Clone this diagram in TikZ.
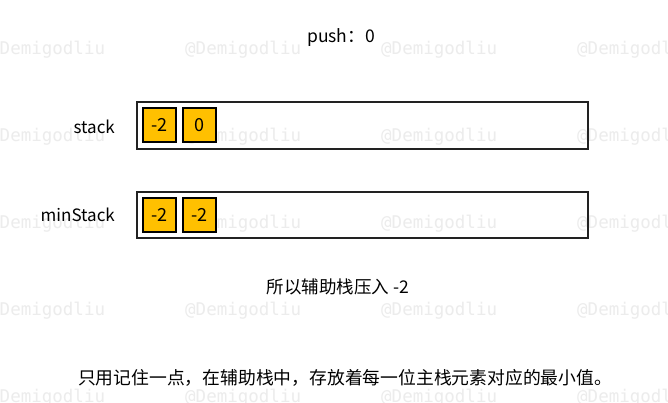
\documentclass[tikz,border=0pt]{standalone}
\usepackage{fontspec}
\setmainfont{Noto Sans CJK SC}
\newfontfamily\wmfont{DejaVu Sans Mono}
\definecolor{cellfill}{HTML}{FFC000}
\definecolor{boxline}{HTML}{222222}
\definecolor{wmgray}{HTML}{ECECEC}
\begin{document}
\begin{tikzpicture}[x=1pt,y=-1pt,
  wm/.style={font=\wmfont\fontsize{17.5}{20}\selectfont, text=wmgray, anchor=west, inner sep=0pt},
  stackbox/.style={draw=boxline, line width=1.8pt},
  cell/.style={draw=black, line width=1.2pt, fill=cellfill, minimum width=33pt, minimum height=34pt, inner sep=0pt, font=\fontsize{18}{20}\selectfont},
  lbl/.style={font=\fontsize{17}{19}\selectfont, anchor=east, inner sep=0pt},
  txt/.style={font=\fontsize{17.5}{20}\selectfont, inner sep=0pt}]
\useasboundingbox (0,0) rectangle (668,402);
\fill[white] (0,0) rectangle (668,402);
% watermarks
\foreach \yy in {50,137,224,311,398}{
  \foreach \xx in {-11,185,381,577}{
    \node[wm] at (\xx,\yy) {@Demigodliu};
  }
}
% title
\node[txt] (title) at (341,38) {push：0};
% stack
\draw[stackbox] (137,102) rectangle (588,149);
\node[lbl] (slbl) at (115,127) {stack};
\node[cell] (s1) at (159.5,125) {-2};
\node[cell] (s2) at (199.5,125) {0};
% minStack
\draw[stackbox] (137,192) rectangle (588,238);
\node[lbl] (mlbl) at (115,215) {minStack};
\node[cell] (m1) at (159.5,215) {-2};
\node[cell] (m2) at (199.5,215) {-2};
% texts
\node[txt] (mid) at (338,287) {所以辅助栈压入 -2};
\node[txt, font=\fontsize{17.8}{20}\selectfont] (bottom) at (345,378) {只用记住一点，在辅助栈中，存放着每一位主栈元素对应的最小值。};
\end{tikzpicture}
\end{document}
